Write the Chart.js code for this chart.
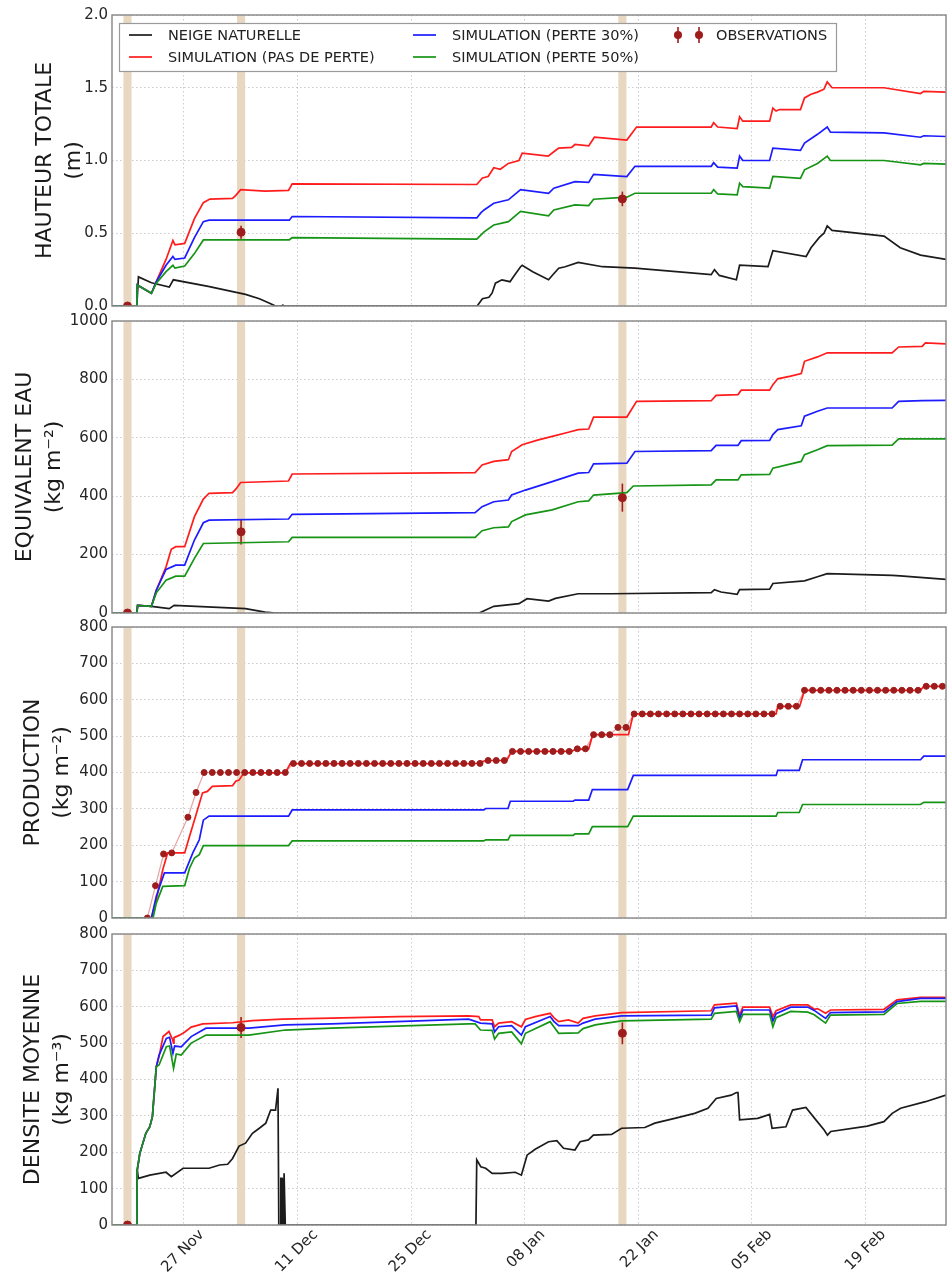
<!DOCTYPE html>
<html lang="fr">
<head>
<meta charset="utf-8">
<title>Neige de culture</title>
<script src="https://cdn.jsdelivr.net/npm/chart.js@4.4.1/dist/chart.umd.min.js"></script>
<style>
  html, body { margin: 0; padding: 0; background: #fff; }
  body { position: relative; width: 951px; height: 1276px; overflow: hidden; }
  canvas { position: absolute; left: 0; }
</style>
</head>
<body>
<canvas id="hauteur" width="951" height="320" style="top:0px"></canvas>
<canvas id="eau" width="951" height="321" style="top:306px"></canvas>
<canvas id="production" width="951" height="319" style="top:613px"></canvas>
<canvas id="densite" width="951" height="358" style="top:918px"></canvas>
<script>
// jours comptés depuis le 18 novembre (0 = 18 nov. 00h)
const tickJours = [9, 23, 37, 51, 65, 79, 93]
const tickLabels = ['27 Nov', '11 Dec', '25 Dec', '08 Jan', '22 Jan', '05 Feb', '19 Feb']

// jours des mesures (bandes beiges)
const obsJours = [2.05, 16.05, 63.05]

const obsHauteur = [0, 0.507, 0.736]
const errHauteur = [0, 0.045, 0.05]
const obsEau = [0, 278, 395]
const errEau = [0, 43, 48]
const obsDens = [0, 543, 527]
const errDens = [0, 29, 30]

// HAUTEUR TOTALE (m)
const hauteurNeige = [[0.14,0],[3.2,0],[3.4,0.2],[5.0,0.16],[7.2,0.13],[7.7,0.18],[12.0,0.135],[16.6,0.08],[18.3,0.05],[19.5,0.02],[20.3,0],[21.0,0],[21.2,0.006],[21.4,0],[45.15,0],[45.8,0.05],[46.6,0.06],[47.0,0.09],[47.4,0.157],[48.2,0.18],[49.2,0.167],[49.6,0.2],[50.5,0.27],[50.7,0.28],[52.0,0.235],[53.95,0.18],[54.4,0.21],[55.2,0.26],[56.0,0.27],[57.6,0.3],[60.6,0.27],[64.6,0.26],[74.0,0.215],[74.4,0.25],[75.0,0.21],[77.1,0.18],[77.5,0.28],[81.0,0.27],[81.6,0.38],[85.7,0.34],[86.3,0.4],[87.3,0.47],[87.9,0.5],[88.3,0.55],[88.9,0.52],[95.3,0.48],[97.3,0.4],[99.8,0.35],[102.94,0.32]]
const hauteurSansPerte = [[0.14,0],[3.2,0],[3.25,0.145],[5.0,0.087],[5.6,0.167],[6.8,0.32],[7.65,0.45],[7.9,0.42],[9.1,0.43],[10.3,0.6],[11.4,0.71],[12.2,0.735],[15.0,0.74],[15.4,0.76],[16.0,0.8],[19.0,0.79],[21.9,0.795],[22.35,0.84],[45.1,0.835],[45.8,0.88],[46.5,0.89],[47.2,0.95],[48.0,0.94],[49.0,0.98],[50.3,1.0],[50.7,1.05],[53.9,1.03],[54.6,1.06],[55.2,1.085],[56.8,1.09],[57.2,1.11],[58.9,1.1],[59.6,1.16],[63.6,1.14],[64.8,1.23],[74.0,1.23],[74.3,1.26],[74.8,1.23],[77.2,1.22],[77.5,1.3],[77.9,1.27],[81.2,1.27],[81.6,1.36],[82.0,1.34],[82.4,1.35],[85.0,1.35],[85.5,1.43],[86.3,1.455],[87.1,1.47],[87.9,1.49],[88.3,1.54],[88.9,1.5],[95.3,1.5],[99.8,1.46],[100.2,1.475],[102.94,1.47]]
const hauteur30 = [[0.14,0],[3.2,0],[3.25,0.145],[5.0,0.087],[5.6,0.167],[6.8,0.28],[7.65,0.34],[7.9,0.32],[9.1,0.33],[10.3,0.47],[11.4,0.58],[12.1,0.59],[22.0,0.59],[22.35,0.615],[45.1,0.605],[45.6,0.64],[46.0,0.66],[47.2,0.706],[49.0,0.73],[50.5,0.8],[53.95,0.775],[54.6,0.81],[57.2,0.855],[58.9,0.85],[59.5,0.905],[63.6,0.89],[64.6,0.96],[74.0,0.96],[74.3,0.985],[74.8,0.955],[77.2,0.947],[77.5,1.03],[77.9,1.0],[81.2,1.0],[81.6,1.085],[85.0,1.07],[85.5,1.12],[87.1,1.18],[88.3,1.23],[88.7,1.195],[95.3,1.19],[99.8,1.16],[100.2,1.17],[102.94,1.165]]
const hauteur50 = [[0.14,0],[3.2,0],[3.25,0.145],[5.0,0.087],[5.6,0.156],[6.8,0.236],[7.65,0.28],[7.9,0.26],[9.1,0.275],[10.3,0.36],[11.4,0.454],[22.0,0.455],[22.35,0.47],[45.1,0.46],[46.0,0.51],[47.2,0.557],[49.0,0.58],[50.5,0.65],[53.95,0.62],[54.6,0.66],[57.2,0.695],[58.9,0.69],[59.5,0.734],[63.6,0.748],[64.6,0.775],[74.0,0.775],[74.3,0.8],[74.8,0.77],[77.2,0.764],[77.5,0.844],[77.9,0.82],[81.2,0.81],[81.6,0.89],[85.0,0.878],[85.5,0.936],[87.1,0.98],[88.3,1.03],[88.7,1.0],[95.3,1.0],[99.8,0.97],[100.2,0.98],[102.94,0.975]]

// EQUIVALENT EAU (kg m-2)
const eauNeige = [[0.14,0],[3.2,0],[3.3,26],[5.0,23],[7.2,15],[7.8,26],[16.6,15],[19.0,3],[20.3,0],[45.4,0],[47.2,23],[50.3,32],[51.3,49],[53.95,41],[54.8,50],[57.6,66],[61.7,66],[74.0,70],[74.4,80],[75.2,72],[77.2,64],[77.5,80],[81.2,82],[81.6,101],[85.5,110],[87.1,124],[88.3,135],[96.3,129],[97.3,127],[102.94,115]]
const eauSansPerte = [[0.14,0],[3.2,0],[3.3,26],[5.0,23],[5.6,78],[6.8,158],[7.45,218],[8.0,227],[9.1,227],[10.3,330],[11.4,390],[12.1,410],[15.0,412],[15.4,424],[16.0,447],[21.9,452],[22.35,476],[44.9,481],[45.76,507],[47.2,519],[49.0,525],[49.4,553],[50.7,576],[52.7,593],[54.4,605],[56.4,619],[57.6,628],[58.9,630],[59.5,671],[63.6,671],[64.8,725],[74.0,727],[74.6,745],[77.3,748],[77.7,763],[81.2,763],[81.6,782],[82.2,802],[83.8,811],[85.1,820],[85.5,862],[87.1,877],[88.3,891],[96.3,891],[97.1,911],[100.0,913],[100.4,925],[102.94,922]]
const eau30 = [[0.14,0],[3.2,0],[3.3,26],[5.0,23],[5.6,78],[6.8,149],[8.0,164],[9.1,164],[10.3,250],[11.4,309],[12.1,318],[21.9,322],[22.35,338],[44.9,344],[45.76,364],[47.2,381],[49.0,387],[49.4,404],[51.1,421],[54.4,450],[57.6,479],[58.9,481],[59.5,511],[63.6,513],[64.6,553],[74.0,556],[74.6,574],[77.3,574],[77.7,590],[81.2,591],[81.6,611],[82.2,628],[85.1,641],[85.5,674],[87.1,691],[88.3,702],[96.3,702],[97.1,725],[100.0,727],[102.94,728]]
const eau50 = [[0.14,0],[3.2,0],[3.3,26],[5.0,23],[5.6,69],[6.8,112],[8.0,126],[9.1,126],[10.3,187],[11.4,238],[21.9,244],[22.35,259],[44.9,259],[45.76,282],[47.2,292],[49.0,295],[49.4,313],[51.1,336],[54.4,353],[57.6,381],[58.9,384],[59.5,404],[63.6,412],[64.4,435],[74.0,439],[74.6,456],[77.3,456],[77.7,473],[81.2,475],[81.6,496],[85.1,519],[85.5,542],[87.1,559],[88.3,573],[96.3,575],[97.1,596],[102.94,596]]

// PRODUCTION (kg m-2)
const prodSansPerte = [[0.14,0],[5.0,0],[5.6,50],[6.4,133],[7.0,179],[9.1,179],[9.7,225],[10.5,284],[11.3,344],[11.9,348],[12.5,362],[15.0,364],[15.4,376],[15.8,379],[16.4,399],[21.5,399],[22.1,424],[44.9,424],[46.2,433],[48.8,433],[49.4,458],[56.8,458],[57.2,463],[58.9,465],[59.4,504],[63.8,504],[64.4,561],[82.0,561],[82.2,582],[84.9,582],[85.5,626],[99.8,626],[100.2,637],[102.94,637]]
const prod30 = [[0.14,0],[5.0,0],[5.6,60],[6.6,124],[9.1,124],[10.1,179],[10.9,215],[11.4,269],[12.1,280],[21.9,280],[22.35,297],[45.97,297],[46.2,301],[48.95,301],[49.24,321],[57.0,321],[57.2,324],[58.9,324],[59.35,353],[63.7,353],[64.4,392],[82.0,392],[82.2,406],[84.85,406],[85.26,435],[99.8,435],[100.2,445],[102.94,445]]
const prod50 = [[0.14,0],[5.2,0],[5.6,41],[6.4,87],[9.1,89],[9.7,137],[10.3,165],[10.9,174],[11.4,199],[21.9,199],[22.35,212],[45.97,212],[46.2,215],[48.95,215],[49.24,227],[57.0,227],[57.2,231],[58.9,231],[59.35,251],[63.7,251],[64.4,280],[82.0,280],[82.2,290],[84.85,290],[85.26,312],[99.8,312],[100.2,318],[102.94,318]]
const prodObsJours = [4.5,5.5,6.5,7.5,9.5,10.5,11.5,12.5,13.5,14.5,15.5,16.5,17.5,18.5,19.5,20.5,21.5,22.5,23.5,24.5,25.5,26.5,27.5,28.5,29.5,30.5,31.5,32.5,33.5,34.5,35.5,36.5,37.5,38.5,39.5,40.5,41.5,42.5,43.5,44.5,45.5,46.5,47.5,48.5,49.5,50.5,51.5,52.5,53.5,54.5,55.5,56.5,57.5,58.5,59.5,60.5,61.5,62.5,63.5,64.5,65.5,66.5,67.5,68.5,69.5,70.5,71.5,72.5,73.5,74.5,75.5,76.5,77.5,78.5,79.5,80.5,81.5,82.5,83.5,84.5,85.5,86.5,87.5,88.5,89.5,90.5,91.5,92.5,93.5,94.5,95.5,96.5,97.5,98.5,99.5,100.5,101.5,102.5]
const prodObs = [0,89,176,179,277,345,400,400,400,400,400,400,400,400,400,400,400,425,425,425,425,425,425,425,425,425,425,425,425,425,425,425,425,425,425,425,425,425,425,425,425,433,433,433,458,458,458,458,458,458,458,458,465,465,504,504,504,524,524,561,561,561,561,561,561,561,561,561,561,561,561,561,561,561,561,561,561,582,582,582,626,626,626,626,626,626,626,626,626,626,626,626,626,626,626,637,637,637]

// DENSITE MOYENNE (kg m-3)
const densNeige = [[0.14,0],[3.2,0],[3.25,151],[3.4,128],[4.8,137],[6.8,145],[7.45,133],[8.9,156],[12.1,156],[13.4,165],[14.4,167],[15.0,183],[15.8,217],[16.6,225],[17.45,252],[18.3,266],[19.1,280],[19.7,316],[20.3,316],[20.6,376],[20.7,0],[20.9,0],[20.95,128],[21.1,128],[21.15,0],[21.3,0],[21.35,142],[21.45,142],[21.5,0],[45.0,0],[45.1,179],[45.6,160],[46.2,156],[47.0,142],[48.2,142],[49.85,145],[50.6,137],[51.3,192],[52.3,208],[53.95,229],[54.97,232],[55.8,211],[57.2,206],[57.84,229],[58.86,234],[59.47,247],[61.72,249],[62.95,266],[65.82,268],[67.05,280],[69.5,293],[71.96,307],[73.6,321],[74.62,348],[76.46,357],[77.1,364],[77.3,364],[77.5,289],[79.73,293],[81.2,304],[81.5,266],[83.21,270],[84.03,316],[85.67,323],[86.9,289],[87.92,261],[88.33,247],[88.74,257],[93.24,272],[95.29,284],[96.31,307],[97.34,321],[100.41,339],[102.94,357]]
const densSansPerte = [[0.14,0],[3.2,0],[3.25,151],[3.57,197],[4.31,252],[4.8,270],[5.12,298],[5.6,435],[5.94,463],[6.43,518],[7.16,532],[7.6,510],[7.73,500],[7.78,515],[8.47,522],[9.08,530],[9.9,544],[11.33,553],[15.0,556],[17.45,562],[21.1,566],[27.2,569],[35.4,573],[44.1,575],[45.35,573],[45.56,564],[47.0,564],[47.3,545],[47.8,555],[49.4,559],[50.6,545],[51.1,565],[52.3,573],[54.15,582],[54.6,570],[55.2,559],[56.4,564],[57.6,555],[58.2,568],[59.7,575],[62.95,584],[74.0,589],[74.4,605],[77.1,610],[77.5,577],[77.9,599],[81.2,599],[81.6,573],[82.0,589],[83.8,605],[85.9,605],[86.7,593],[87.1,595],[88.1,582],[88.7,591],[95.3,593],[96.9,619],[99.8,626],[102.94,626]]
const dens30 = [[0.14,0],[3.2,0],[3.25,151],[3.57,197],[4.31,252],[4.8,270],[5.12,298],[5.6,435],[5.94,467],[6.84,513],[7.24,516],[7.65,472],[7.86,492],[8.67,490],[9.9,518],[11.73,541],[17.0,541],[21.5,550],[27.2,553],[44.1,566],[45.56,555],[47.0,553],[47.3,531],[47.8,545],[49.4,548],[50.6,522],[51.1,545],[54.15,573],[54.6,560],[55.2,548],[57.6,548],[58.2,555],[59.7,566],[62.95,575],[74.0,577],[74.4,597],[77.1,602],[77.5,568],[77.9,591],[81.2,591],[81.6,561],[82.0,581],[83.8,599],[85.9,599],[86.7,590],[88.1,568],[88.7,584],[95.3,586],[96.9,614],[99.8,623],[102.94,623]]
const dens50 = [[0.14,0],[3.2,0],[3.25,151],[3.57,197],[4.31,252],[4.8,270],[5.12,298],[5.6,435],[5.94,440],[6.84,490],[7.24,492],[7.73,431],[8.06,470],[8.67,467],[9.9,500],[11.73,522],[17.0,522],[21.5,536],[27.2,541],[44.1,553],[44.9,553],[45.56,536],[47.0,535],[47.3,511],[47.8,527],[49.4,531],[50.6,498],[51.1,527],[54.15,559],[54.6,545],[55.2,527],[57.6,528],[58.2,540],[59.7,550],[62.95,561],[74.0,566],[74.4,582],[77.1,587],[77.5,559],[77.9,579],[81.2,579],[81.6,545],[82.0,570],[83.8,587],[85.9,585],[86.7,578],[88.1,555],[88.7,577],[95.3,579],[96.9,609],[99.8,615],[102.94,615]]

const couleurs = {
    neige: '#1c1c1c',
    sansPerte: '#ff1c1c',
    perte30: '#1c1cff',
    perte50: '#169416',
    obs: '#9e1c1c'
}
const police = 'DejaVu Sans'

const enPoints = paires => paires.map(([x, y]) => ({ x, y }))

const courbe = (label, paires, couleur, ordre) => ({
    label,
    data: enPoints(paires),
    borderColor: couleur,
    borderWidth: 1.7,
    pointRadius: 0,
    tension: 0,
    fill: false,
    order: ordre
})

const observations = (valeurs, erreurs) => ({
    label: 'OBSERVATIONS',
    data: obsJours.map((x, i) => ({ x, y: valeurs[i] })),
    erreurs,
    showLine: false,
    pointRadius: 4,
    pointBackgroundColor: couleurs.obs,
    pointBorderColor: couleurs.obs,
    borderColor: couleurs.obs,
    order: 0
})

// bandes beiges, barres d'erreur et cadre
const decor = {
    id: 'decor',
    beforeDatasetsDraw(chart) {
        const { ctx, chartArea: a, scales: { x, y } } = chart
        ctx.save()
        ctx.fillStyle = '#e9d8c1'
        obsJours.forEach(j => {
            const g = x.getPixelForValue(j - 0.5)
            const d = x.getPixelForValue(j + 0.5)
            ctx.fillRect(g, a.top, d - g, a.bottom - a.top)
        })
        ctx.strokeStyle = couleurs.obs
        ctx.lineWidth = 1.6
        chart.data.datasets.forEach(ds => {
            if (!ds.erreurs) return
            ds.data.forEach((p, i) => {
                const e = ds.erreurs[i]
                if (!e) return
                const px = x.getPixelForValue(p.x)
                ctx.beginPath()
                ctx.moveTo(px, y.getPixelForValue(p.y - e))
                ctx.lineTo(px, y.getPixelForValue(p.y + e))
                ctx.stroke()
            })
        })
        ctx.restore()
    },
    afterDraw(chart) {
        const { ctx, chartArea: a } = chart
        ctx.save()
        ctx.strokeStyle = '#8c8c8c'
        ctx.lineWidth = 1.5
        ctx.strokeRect(a.left, a.top, a.right - a.left, a.bottom - a.top)
        ctx.restore()
    }
}

// légende dans le premier panneau
const legende = {
    id: 'legende',
    afterDraw(chart) {
        const ctx = chart.ctx
        ctx.save()
        ctx.fillStyle = '#fff'
        ctx.fillRect(119, 23, 717, 48)
        ctx.strokeStyle = '#9a9a9a'
        ctx.lineWidth = 1.2
        ctx.strokeRect(119.5, 23.5, 717, 48)

        const entrees = [
            { label: 'NEIGE NATURELLE', couleur: couleurs.neige, x: 129, y: 35 },
            { label: 'SIMULATION (PAS DE PERTE)', couleur: couleurs.sansPerte, x: 129, y: 57 },
            { label: 'SIMULATION (PERTE 30%)', couleur: couleurs.perte30, x: 413, y: 35 },
            { label: 'SIMULATION (PERTE 50%)', couleur: couleurs.perte50, x: 413, y: 57 }
        ]
        ctx.font = `14.5px "${police}"`
        ctx.textBaseline = 'middle'
        entrees.forEach(e => {
            ctx.strokeStyle = e.couleur
            ctx.lineWidth = 1.7
            ctx.beginPath()
            ctx.moveTo(e.x, e.y)
            ctx.lineTo(e.x + 23, e.y)
            ctx.stroke()
            ctx.fillStyle = '#222'
            ctx.fillText(e.label, e.x + 39, e.y + 1)
        })

        // symbole des observations
        ;[678, 699].forEach(mx => {
            ctx.strokeStyle = couleurs.obs
            ctx.lineWidth = 1.6
            ctx.beginPath()
            ctx.moveTo(mx, 27)
            ctx.lineTo(mx, 43)
            ctx.stroke()
            ctx.fillStyle = couleurs.obs
            ctx.beginPath()
            ctx.arc(mx, 35, 4, 0, Math.PI * 2)
            ctx.fill()
        })
        ctx.fillStyle = '#222'
        ctx.fillText('OBSERVATIONS', 716, 36)
        ctx.restore()
    }
}

const options = (titre, ymax, pas, format, titreDecalage, padHaut, padBas, dernier) => ({
    responsive: false,
    animation: false,
    devicePixelRatio: 1,
    layout: { padding: { left: 0, right: 2, top: padHaut, bottom: padBas } },
    plugins: {
        legend: { display: false },
        tooltip: { enabled: false }
    },
    scales: {
        x: {
            type: 'linear',
            min: 0.14,
            max: 102.94,
            afterBuildTicks: s => { s.ticks = tickJours.map(v => ({ value: v })) },
            afterFit: s => { s.height = dernier ? 51 : 0 },
            grid: { color: 'rgba(0,0,0,0.2)', lineWidth: 1, drawTicks: false },
            border: { display: false, dash: [1.5, 2.5] },
            ticks: {
                display: dernier,
                autoSkip: false,
                minRotation: 45,
                maxRotation: 45,
                padding: 1,
                labelOffset: 18,
                color: '#262626',
                font: { family: police, size: 15 },
                callback: (v, i) => tickLabels[i]
            }
        },
        y: {
            min: 0,
            max: ymax,
            afterFit: s => { s.width = 112 },
            grid: { color: 'rgba(0,0,0,0.2)', lineWidth: 1, drawTicks: false },
            border: { display: false, dash: [1.5, 2.5] },
            ticks: {
                stepSize: pas,
                padding: 4,
                color: '#262626',
                font: { family: police, size: 15 },
                callback: format
            },
            title: {
                display: true,
                text: titre,
                color: '#1a1a1a',
                font: { family: police, size: 22, lineHeight: 1.3 },
                padding: { top: titreDecalage, bottom: 0 }
            }
        }
    }
})

const entier = v => String(v)

new Chart(document.getElementById('hauteur'), {
    type: 'line',
    data: {
        datasets: [
            courbe('NEIGE NATURELLE', hauteurNeige, couleurs.neige, 4),
            courbe('SIMULATION (PAS DE PERTE)', hauteurSansPerte, couleurs.sansPerte, 3),
            courbe('SIMULATION (PERTE 30%)', hauteur30, couleurs.perte30, 2),
            courbe('SIMULATION (PERTE 50%)', hauteur50, couleurs.perte50, 1),
            observations(obsHauteur, errHauteur)
        ]
    },
    options: options(['HAUTEUR TOTALE', '(m)'], 2, 0.5, v => v.toFixed(1), 31, 15, 14, false),
    plugins: [decor, legende]
})

new Chart(document.getElementById('eau'), {
    type: 'line',
    data: {
        datasets: [
            courbe('NEIGE NATURELLE', eauNeige, couleurs.neige, 4),
            courbe('SIMULATION (PAS DE PERTE)', eauSansPerte, couleurs.sansPerte, 3),
            courbe('SIMULATION (PERTE 30%)', eau30, couleurs.perte30, 2),
            courbe('SIMULATION (PERTE 50%)', eau50, couleurs.perte50, 1),
            observations(obsEau, errEau)
        ]
    },
    options: options(['EQUIVALENT EAU', '(kg m\u207B\u00B2)'], 1000, 200, entier, 11, 15, 14, false),
    plugins: [decor]
})

const prodObsPoints = prodObsJours.map((x, i) => ({ x, y: prodObs[i] }))

new Chart(document.getElementById('production'), {
    type: 'line',
    data: {
        datasets: [
            {
                label: 'OBSERVATIONS (ligne)',
                data: prodObsPoints,
                borderColor: 'rgba(205, 90, 90, 0.55)',
                borderWidth: 1.2,
                pointRadius: 0,
                tension: 0,
                order: 5
            },
            courbe('SIMULATION (PAS DE PERTE)', prodSansPerte, couleurs.sansPerte, 3),
            courbe('SIMULATION (PERTE 30%)', prod30, couleurs.perte30, 2),
            courbe('SIMULATION (PERTE 50%)', prod50, couleurs.perte50, 1),
            {
                label: 'OBSERVATIONS',
                data: prodObsPoints,
                showLine: false,
                pointRadius: 3,
                pointBackgroundColor: couleurs.obs,
                pointBorderColor: couleurs.obs,
                borderColor: couleurs.obs,
                order: 0
            }
        ]
    },
    options: options(['PRODUCTION', '(kg m\u207B\u00B2)'], 800, 100, entier, 19, 14, 14, false),
    plugins: [decor]
})

new Chart(document.getElementById('densite'), {
    type: 'line',
    data: {
        datasets: [
            courbe('NEIGE NATURELLE', densNeige, couleurs.neige, 4),
            courbe('SIMULATION (PAS DE PERTE)', densSansPerte, couleurs.sansPerte, 3),
            courbe('SIMULATION (PERTE 30%)', dens30, couleurs.perte30, 2),
            courbe('SIMULATION (PERTE 50%)', dens50, couleurs.perte50, 1),
            observations(obsDens, errDens)
        ]
    },
    options: options(['DENSITE MOYENNE', '(kg m\u207B\u00B3)'], 800, 100, entier, 19, 16, 0, true),
    plugins: [decor]
})
</script>
</body>
</html>
